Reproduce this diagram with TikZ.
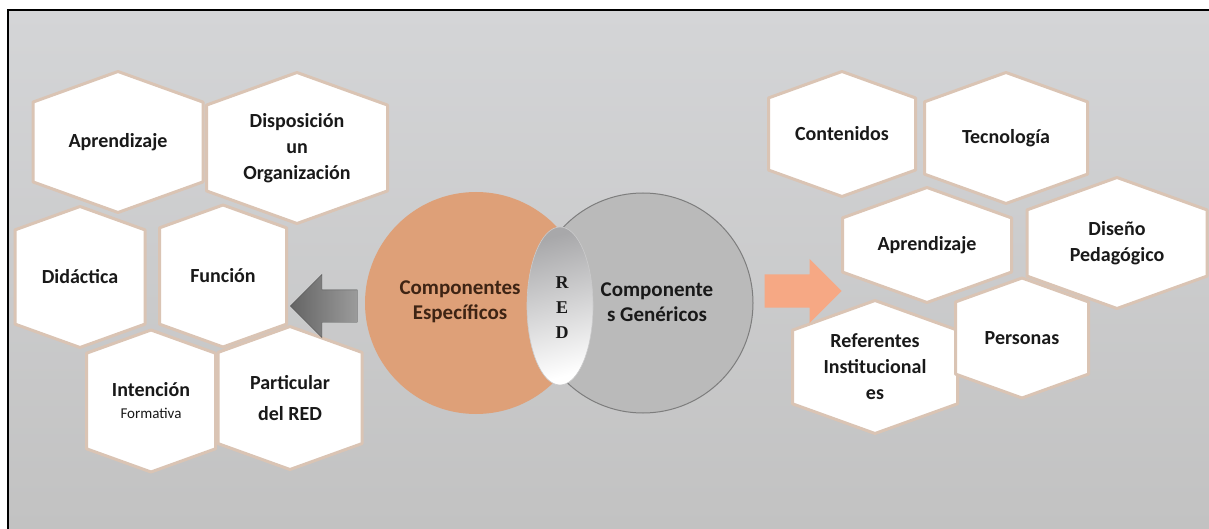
\documentclass[tikz,border=0pt]{standalone}
\usepackage{fontspec}
\setmainfont{Carlito}
\newfontfamily\redfont{Liberation Serif}
\usetikzlibrary{positioning,shapes.geometric,shapes.arrows}

\definecolor{bgtop}{RGB}{212,213,215}
\definecolor{bgbottom}{RGB}{194,194,194}
\definecolor{hexedge}{RGB}{218,196,180}
\definecolor{especfill}{RGB}{222,160,120}
\definecolor{generfill}{RGB}{186,186,186}
\definecolor{generedge}{RGB}{125,125,125}
\definecolor{lensgray}{RGB}{168,168,170}
\definecolor{arrowdark}{RGB}{100,100,100}
\definecolor{arrowlight}{RGB}{155,155,155}
\definecolor{arrowsalmon}{RGB}{246,168,132}
\definecolor{brownink}{RGB}{62,36,20}
\definecolor{ink}{RGB}{25,25,25}

\newcommand{\formfont}{\fontsize{15}{18}\selectfont\mdseries}
% hexagon cell: name, x, y, width, height, text
\newcommand{\hexcell}[6]{%
  \path[hexpath] (#2,#3) +(0,-#5/2) -- +(#4/2,-#5/2+0.18*#4) -- +(#4/2,#5/2-0.18*#4)
    -- +(0,#5/2) -- +(-#4/2,#5/2-0.18*#4) -- +(-#4/2,-#5/2+0.18*#4) -- cycle;
  \node[hexlabel] (#1) at (#2,#3) {#6};}

\begin{document}
\begin{tikzpicture}[
  x=1pt, y=-1pt,
  hexpath/.style={fill=white, draw=hexedge, line width=3pt, line join=round},
  hexlabel/.style={font=\fontsize{20}{26}\selectfont\bfseries, text=ink, align=center, inner sep=0pt},
  circtext/.style={font=\fontsize{21}{25}\selectfont\bfseries, text=ink, align=center, inner sep=0pt},
  ]
  \useasboundingbox (0,0) rectangle (1209,529);
  \fill[white] (0,0) rectangle (1209,529);
  \shade[top color=bgtop, bottom color=bgbottom] (8,10) rectangle (1209,529);
  \draw[line width=2pt] (8,529) -- (8,10) -- (1209,10);

  % left cells
  \hexcell{apreL}{118}{142}{170}{141}{Aprendizaje}
  \hexcell{dispo}{297}{148}{181}{151}{Disposición\\un\\Organización}
  \hexcell{didac}{80}{277}{130}{141}{Didáctica}
  \hexcell{funcion}{223}{276}{127}{142}{Función}
  \hexcell{intenc}{151}{401}{129}{142}{Intención\\[-4pt]{\formfont Formativa}}
  \hexcell{partic}{290}{398}{144}{143}{Particular\\[5pt]del RED}
  % right cells
  \hexcell{conten}{842}{134}{147}{125}{Contenidos}
  \hexcell{tecno}{1006}{138}{163}{131}{Tecnología}
  \hexcell{apreR}{927}{245}{169}{115}{Aprendizaje}
  \hexcell{diseno}{1117}{243}{180}{131}{Diseño\\Pedagógico}
  \hexcell{refer}{875}{367}{165}{133}{Referentes\\Institucional\\es}
  \hexcell{person}{1022}{338}{133}{120}{Personas}

  \begin{scope}[every node/.style={inner sep=0pt}]
    \node[circle, fill=especfill, minimum size=222pt] (especC) at (476,303) {};
    \node[circle, fill=generfill, draw=generedge, line width=1pt, minimum size=220pt] (generC) at (643,303) {};
    \node[ellipse, minimum width=66pt, minimum height=158pt, top color=lensgray, bottom color=white,
      shading angle=15, draw=lensgray!60!white, line width=.6pt] (lens) at (560,306) {};
  \end{scope}
  \node[circtext, text=brownink] (especT) at (460,302) {Componentes\\Específicos};
  \node[circtext] (generT) at (657,302) {Componente\\s Genéricos};
  \node[font=\redfont\bfseries\fontsize{18}{25}\selectfont, text=ink, align=center, inner sep=0pt]
    (redT) at (562,308) {R\\E\\D};

  \begin{scope}[every node/.style={single arrow, anchor=tip, single arrow head extend=15.5pt}]
    \node[shape border rotate=180, minimum height=67pt, inner sep=16pt,
      left color=arrowdark, right color=arrowlight, draw=arrowdark!80!black] (toLeft) at (290,306) {};
    \node[minimum height=77pt, inner sep=16.5pt, fill=arrowsalmon] (toRight) at (842,291) {};
  \end{scope}
\end{tikzpicture}
\end{document}
